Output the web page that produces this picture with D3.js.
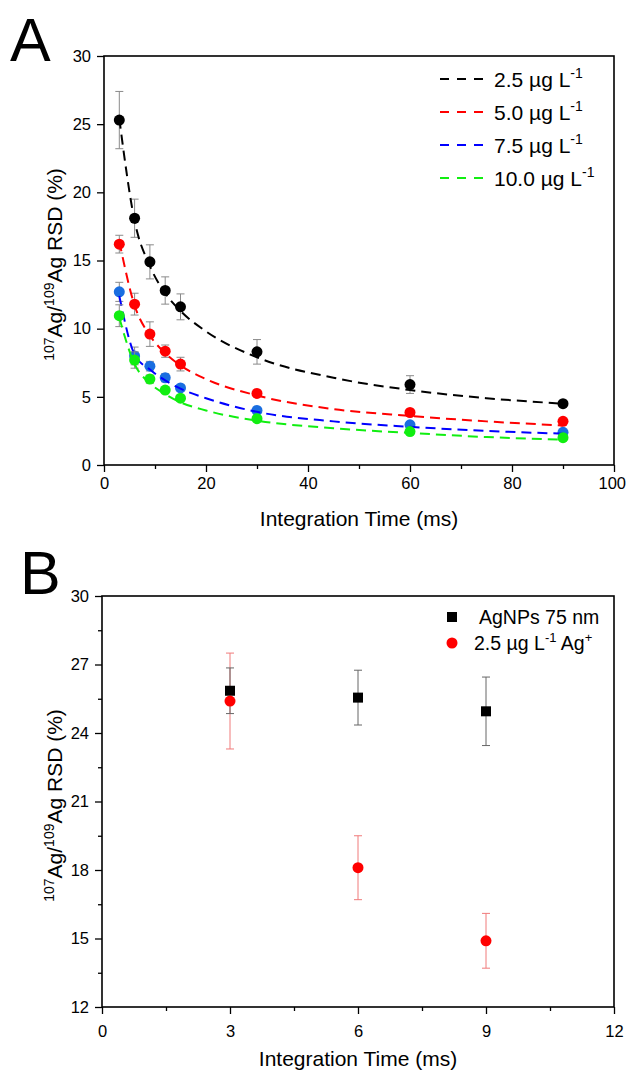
<!DOCTYPE html>
<html>
<head>
<meta charset="utf-8">
<script src="https://cdn.jsdelivr.net/npm/d3@7"></script>
<style>
  body { margin: 0; background: #fff; }
  svg { display: block; font-family: 'Liberation Sans', Arial, sans-serif; }
</style>
</head>
<body>
<script>
//## DATA ##
// panel A: RSD vs integration time for 4 Ag+ concentrations
const timesA = [3, 6, 9, 12, 15, 30, 60, 90]
const rsd25 = [25.3, 18.1, 14.9, 12.8, 11.6, 8.3, 5.9, 4.5]
const err25 = [2.1, 1.4, 1.25, 1.0, 0.95, 0.9, 0.65, 0.15]
const rsd50 = [16.2, 11.8, 9.6, 8.35, 7.4, 5.25, 3.85, 3.2]
const err50 = [0.65, 0.8, 0.9, 0.45, 0.5, 0.2, 0.15, 0.1]
const rsd75 = [12.7, 8.0, 7.25, 6.4, 5.65, 4.0, 2.95, 2.4]
const err75 = [0.7, 0.65, 0.35, 0.3, 0.2, 0.15, 0.15, 0.1]
const rsd100 = [10.95, 7.7, 6.3, 5.5, 4.9, 3.4, 2.45, 2.0]
const err100 = [0.8, 0.6, 0.3, 0.2, 0.2, 0.1, 0.1, 0.1]
// dashed fit curves
const fitTimes = [3, 6, 9, 12, 15, 20, 30, 45, 60, 75, 90]
const fit25 = [25.4, 17.9, 14.6, 12.6, 11.3, 9.8, 7.9, 6.4, 5.5, 4.9, 4.5]
const fit50 = [16.4, 11.7, 9.5, 8.2, 7.3, 6.3, 5.1, 4.1, 3.6, 3.2, 2.9]
const fit75 = [12.4, 8.1, 7.0, 6.2, 5.6, 4.9, 3.9, 3.2, 2.8, 2.5, 2.3]
const fit100 = [10.8, 7.4, 6.0, 5.2, 4.6, 4.0, 3.25, 2.7, 2.35, 2.05, 1.85]
const concLabels = ['2.5', '5.0', '7.5', '10.0']

// panel B: nanoparticles vs dissolved Ag
const timesB = [3, 6, 9]
const rsdNP = [25.85, 25.55, 24.95]
const errNP = [1.0, 1.2, 1.5]
const rsdIon = [25.4, 18.1, 14.9]
const errIon = [2.1, 1.4, 1.2]

const ticksAX = [0, 20, 40, 60, 80, 100]
const minorAX = [10, 30, 50, 70, 90]
const ticksAY = [0, 5, 10, 15, 20, 25, 30]
const ticksBX = [0, 3, 6, 9, 12]
const minorBX = [1.5, 4.5, 7.5, 10.5]
const ticksBY = [12, 15, 18, 21, 24, 27, 30]
const minorBY = [13.5, 16.5, 19.5, 22.5, 25.5, 28.5]

//## SETUP ##
const width = 627
const height = 1070
const svg = d3.select('body').append('svg')
  .attr('width', width).attr('height', height)

const boxA = { left: 104, right: 614, top: 56, bottom: 465 }
const boxB = { left: 102, right: 614, top: 596, bottom: 1007 }

const xA = d3.scaleLinear().domain([0, 100]).range([boxA.left, boxA.right])
const yA = d3.scaleLinear().domain([0, 30]).range([boxA.bottom, boxA.top])
const xB = d3.scaleLinear().domain([0, 12]).range([boxB.left, boxB.right])
const yB = d3.scaleLinear().domain([12, 30]).range([boxB.bottom, boxB.top])

const seriesA = [
  { values: rsd25, errors: err25, fit: fit25, point: '#000000', line: '#000000' },
  { values: rsd50, errors: err50, fit: fit50, point: '#ff0000', line: '#ff0000' },
  { values: rsd75, errors: err75, fit: fit75, point: '#1a6ee0', line: '#0000ff' },
  { values: rsd100, errors: err100, fit: fit100, point: '#11ee11', line: '#11ee11' }
]

//## AXES ##
const drawAxes = function(box, x, y, xTicks, xMinor, yTicks, yMinor, xLabelGap) {
  const g = svg.append('g')

  g.append('g')
    .attr('transform', 'translate(0,' + box.bottom + ')')
    .call(d3.axisBottom(x).tickValues(xTicks).tickSize(7).tickSizeOuter(0).tickPadding(xLabelGap))
  g.append('g')
    .attr('transform', 'translate(0,' + box.bottom + ')')
    .call(d3.axisBottom(x).tickValues(xMinor).tickSize(4).tickFormat(''))

  g.append('g')
    .attr('transform', 'translate(' + box.left + ',0)')
    .call(d3.axisLeft(y).tickValues(yTicks).tickSize(7).tickSizeOuter(0).tickPadding(6))
  if (yMinor) {
    g.append('g')
      .attr('transform', 'translate(' + box.left + ',0)')
      .call(d3.axisLeft(y).tickValues(yMinor).tickSize(4).tickFormat(''))
  }

  g.selectAll('.domain').remove()
  g.selectAll('.tick line').attr('stroke', '#000').attr('stroke-width', 1.3)
  g.selectAll('.tick text')
    .attr('font-family', "'Liberation Sans', Arial, sans-serif")
    .attr('font-size', 16.5)
    .attr('fill', '#000')

  // keep the last x label inside the page
  g.selectAll('.tick text').each(function() {
    const b = this.getBoundingClientRect()
    if (b.right > width - 1) d3.select(this).attr('dx', (width - 1 - b.right) + 'px')
  })

  // frame
  g.append('rect')
    .attr('x', box.left).attr('y', box.top)
    .attr('width', box.right - box.left).attr('height', box.bottom - box.top)
    .attr('fill', 'none').attr('stroke', '#000').attr('stroke-width', 1.6)
}

const drawYTitle = function(box, cx) {
  const t = svg.append('text')
    .attr('transform', 'translate(' + cx + ',' + ((box.top + box.bottom) / 2 + 4) + ') rotate(-90)')
    .attr('text-anchor', 'middle')
    .attr('font-size', 21)
  t.append('tspan').attr('font-size', 14).attr('dy', -8).text('107')
  t.append('tspan').attr('dy', 8).text('Ag/')
  t.append('tspan').attr('font-size', 14).attr('dy', -8).text('109')
  t.append('tspan').attr('dy', 8).text('Ag RSD (%)')
}

const drawXTitle = function(box, yPos) {
  svg.append('text')
    .attr('x', (box.left + box.right) / 2)
    .attr('y', yPos)
    .attr('text-anchor', 'middle')
    .attr('font-size', 21)
    .text('Integration Time (ms)')
}

const panelLetter = function(letter, xPos, yPos) {
  svg.append('text')
    .attr('x', xPos).attr('y', yPos)
    .attr('font-size', 61)
    .text(letter)
}

//## PANEL A ##
drawAxes(boxA, xA, yA, ticksAX, minorAX, ticksAY, null, 5)
drawYTitle(boxA, 62)
drawXTitle(boxA, 526)
panelLetter('A', 10, 61)

const gA = svg.append('g')
const lineA = d3.line()
  .x((d, i) => xA(fitTimes[i]))
  .y(d => yA(d))
  .curve(d3.curveMonotoneX)

seriesA.forEach(s => {
  const gs = gA.append('g')
  // error bars
  s.values.forEach((v, i) => {
    const cx = xA(timesA[i])
    const top = yA(v + s.errors[i])
    const bot = yA(v - s.errors[i])
    gs.append('line').attr('x1', cx).attr('x2', cx).attr('y1', top).attr('y2', bot)
      .attr('stroke', '#8a8a8a').attr('stroke-width', 1)
    gs.append('line').attr('x1', cx - 4).attr('x2', cx + 4).attr('y1', top).attr('y2', top)
      .attr('stroke', '#8a8a8a').attr('stroke-width', 1)
    gs.append('line').attr('x1', cx - 4).attr('x2', cx + 4).attr('y1', bot).attr('y2', bot)
      .attr('stroke', '#8a8a8a').attr('stroke-width', 1)
  })
  gs.selectAll('circle').data(s.values)
    .enter().append('circle')
      .attr('cx', (d, i) => xA(timesA[i]))
      .attr('cy', d => yA(d))
      .attr('r', 5.5)
      .attr('fill', s.point)
  gs.append('path')
    .attr('d', lineA(s.fit))
    .attr('fill', 'none')
    .attr('stroke', s.line)
    .attr('stroke-width', 2)
    .attr('stroke-dasharray', '10,6')
})

// legend A
const legA = svg.append('g')
seriesA.forEach((s, i) => {
  const ly = boxA.top + 23 + i * 33
  legA.append('line')
    .attr('x1', 440).attr('x2', 491).attr('y1', ly).attr('y2', ly)
    .attr('stroke', s.line).attr('stroke-width', 2)
    .attr('stroke-dasharray', '9,8')
  const t = legA.append('text')
    .attr('x', 494).attr('y', ly + 7.5)
    .attr('font-size', 21)
  t.append('tspan').text(concLabels[i] + ' \u00b5g L')
  t.append('tspan').attr('font-size', 14).attr('dy', -9).text('-1')
})

//## PANEL B ##
drawAxes(boxB, xB, yB, ticksBX, minorBX, ticksBY, minorBY, 11)
drawYTitle(boxB, 62)
drawXTitle(boxB, 1066)
panelLetter('B', 20, 594)

const gB = svg.append('g')
const errorBars = function(times, values, errors, color) {
  values.forEach((v, i) => {
    const cx = xB(times[i])
    const top = yB(v + errors[i])
    const bot = yB(v - errors[i])
    gB.append('line').attr('x1', cx).attr('x2', cx).attr('y1', top).attr('y2', bot)
      .attr('stroke', color).attr('stroke-width', 1)
    gB.append('line').attr('x1', cx - 4).attr('x2', cx + 4).attr('y1', top).attr('y2', top)
      .attr('stroke', color).attr('stroke-width', 1)
    gB.append('line').attr('x1', cx - 4).attr('x2', cx + 4).attr('y1', bot).attr('y2', bot)
      .attr('stroke', color).attr('stroke-width', 1)
  })
}
errorBars(timesB, rsdIon, errIon, '#f07a7a')
errorBars(timesB, rsdNP, errNP, '#666666')

gB.selectAll('.np').data(rsdNP)
  .enter().append('rect')
    .attr('class', 'np')
    .attr('x', (d, i) => xB(timesB[i]) - 5)
    .attr('y', d => yB(d) - 5)
    .attr('width', 10).attr('height', 10)
    .attr('fill', '#000')

gB.selectAll('.ion').data(rsdIon)
  .enter().append('circle')
    .attr('class', 'ion')
    .attr('cx', (d, i) => xB(timesB[i]))
    .attr('cy', d => yB(d))
    .attr('r', 5.5)
    .attr('fill', '#ff0000')

// legend B
const legB = svg.append('g')
legB.append('rect').attr('x', 447).attr('y', boxB.top + 16).attr('width', 10).attr('height', 10).attr('fill', '#000')
legB.append('text').attr('x', 479).attr('y', boxB.top + 28).attr('font-size', 19.5).text('AgNPs 75 nm')
legB.append('circle').attr('cx', 452).attr('cy', boxB.top + 47).attr('r', 5.5).attr('fill', '#ff0000')
const tB = legB.append('text').attr('x', 474).attr('y', boxB.top + 54).attr('font-size', 19.5)
tB.append('tspan').text('2.5 \u00b5g L')
tB.append('tspan').attr('font-size', 13).attr('dy', -8).text('-1')
tB.append('tspan').attr('dy', 8).text(' Ag')
tB.append('tspan').attr('font-size', 13).attr('dy', -8).text('+')
</script>
</body>
</html>
